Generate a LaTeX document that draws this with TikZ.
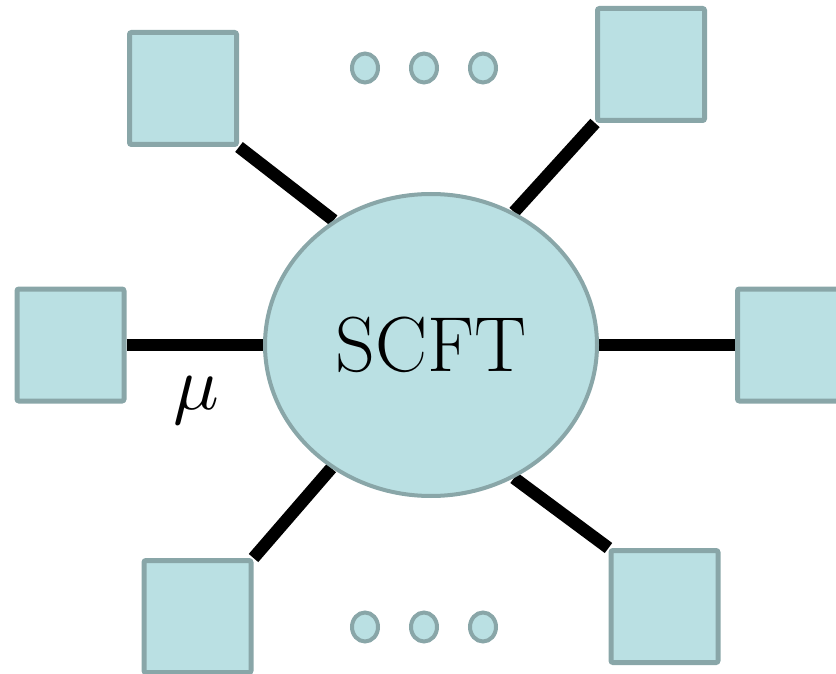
\documentclass[tikz,border=0pt]{standalone}
\usetikzlibrary{shapes.geometric,backgrounds}
\definecolor{cellfill}{HTML}{BAE0E3}
\definecolor{cellline}{HTML}{89A6A8}
\begin{document}
\begin{tikzpicture}[x=1pt,y=-1pt,
  leg/.style={draw=cellline,fill=cellfill,line width=5pt,rounded corners=2pt,
    minimum width=107pt,minimum height=112pt,inner sep=0pt},
  core/.style={ellipse,draw=cellline,fill=cellfill,line width=4pt,
    minimum width=332pt,minimum height=302pt,inner sep=0pt},
  dot/.style={ellipse,draw=cellline,fill=cellfill,line width=4pt,
    minimum width=26pt,minimum height=29pt,inner sep=0pt},
  bond/.style={line width=12.5pt,black}]
\useasboundingbox (0,0) rectangle (836,674);

% central theory
\node[core] (c) at (431,345) {\fontsize{78}{90}\selectfont SCFT};

% attached sectors
\node[leg] (tl) at (183,88.5) {};
\node[leg] (tr) at (651,64.5) {};
\node[leg] (l)  at (70.5,345) {};
\node[leg] (r)  at (791,345) {};
\node[leg] (bl) at (197.5,616.5) {};
\node[leg] (br) at (664.5,606.5) {};

% ellipsis dots
\node[dot] (u1) at (365,68) {};
\node[dot] (u2) at (424,68) {};
\node[dot] (u3) at (483,68) {};
\node[dot] (d1) at (365,627) {};
\node[dot] (d2) at (424,627) {};
\node[dot] (d3) at (483,627) {};

% coupling label
\node[scale=7.6,inner sep=0pt] (mu) at (196,401) {$\mu$};

% bonds beneath the shapes
\begin{pgfonlayer}{background}
\draw[bond] (tl.south east) -- (c.128);
\draw[bond] (tr.south west) -- (c.58.7);
\draw[bond] (bl.north east) -- (c.231.9);
\draw[bond] (br.north west) -- (c.302.6);
\draw[bond] (l.east) -- (c.west);
\draw[bond] (c.east) -- (r.west);
\end{pgfonlayer}
\end{tikzpicture}
\end{document}
